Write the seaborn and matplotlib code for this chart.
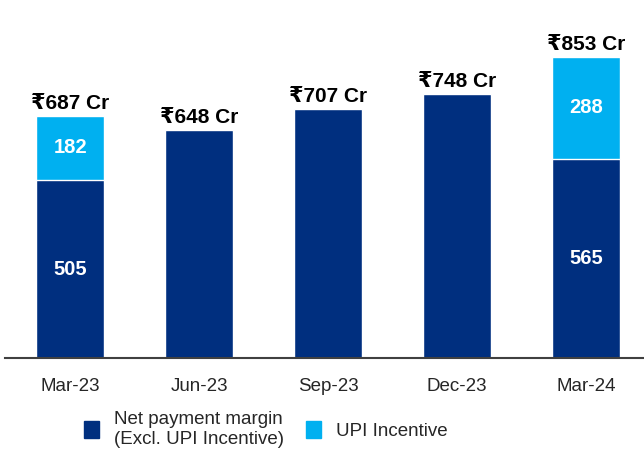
import pandas as pd
import seaborn as sns
import matplotlib.pyplot as plt
from matplotlib.patches import Patch

# Data
quarters = ['Mar-23', 'Jun-23', 'Sep-23', 'Dec-23', 'Mar-24']
net_margin = [505, 648, 707, 748, 565]
upi_incentive = [182, 0, 0, 0, 288]
total_labels = ['₹687 Cr', '₹648 Cr', '₹707 Cr', '₹748 Cr', '₹853 Cr']

dark = '#002F7F'
light = '#00B0F0'

sns.set_style('white')
plt.rcParams['font.family'] = ['Liberation Sans', 'DejaVu Sans']

df = pd.DataFrame({'quarter': quarters, 'net': net_margin, 'upi': upi_incentive})
df['total'] = df['net'] + df['upi']

fig = plt.figure(figsize=(6.44, 4.5), dpi=100)
ax = fig.add_axes([0.008, 0.204, 0.992, 0.796])

# stacked bars: total behind (light), net margin in front (dark)
sns.barplot(data=df, x='quarter', y='total', color=light, width=0.53,
            saturation=1, ax=ax)
sns.barplot(data=df, x='quarter', y='net', color=dark, width=0.53,
            saturation=1, ax=ax)

for i, row in df.iterrows():
    ax.text(i, row['total'] + 8, total_labels[i], ha='center', va='bottom',
            fontsize=15, fontweight='bold', color='black')
    if row['upi'] > 0:
        ax.text(i, row['net'] / 2, str(row['net']), ha='center', va='center',
                fontsize=14.5, fontweight='bold', color='white')
        ax.text(i, row['net'] + row['upi'] / 2, str(row['upi']), ha='center',
                va='center', fontsize=14.5, fontweight='bold', color='white')

ax.set_xlim(-0.504, 4.45)
ax.set_ylim(0, 1015)
ax.set_xlabel('')
ax.set_ylabel('')
ax.set_yticks([])
ax.tick_params(axis='x', length=0, labelsize=13.5, pad=14)
for s in ['top', 'right', 'left']:
    ax.spines[s].set_visible(False)
ax.spines['bottom'].set_color('#404040')
ax.spines['bottom'].set_linewidth(1.5)

handles = [Patch(color=dark), Patch(color=light)]
fig.legend(handles, ['Net payment margin\n(Excl. UPI Incentive)', 'UPI Incentive'],
           loc='center', bbox_to_anchor=(0.413, 0.046), ncol=2, frameon=False,
           fontsize=13.5, handlelength=0.8, handleheight=1.0,
           handletextpad=0.8, columnspacing=1.2)

fig.savefig('out.png', dpi=100)
